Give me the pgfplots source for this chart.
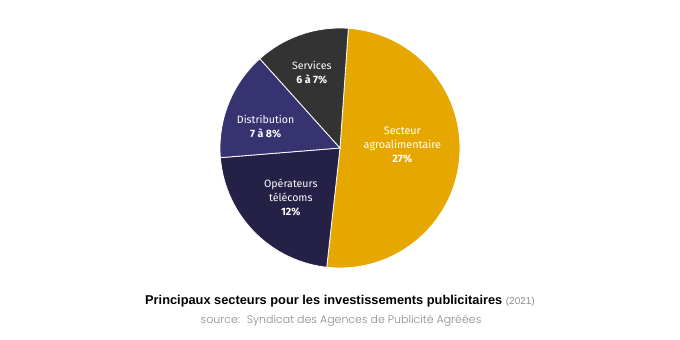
\documentclass[border=0pt]{standalone}
\usepackage{fontspec}
\setmainfont{Fira Sans}
\newfontfamily\titlefont{Liberation Sans}
\newfontfamily\srcfont{Poppins Light}
\usepackage{pgfplots}
\pgfplotsset{compat=1.18}
\definecolor{agro}{HTML}{E6A700}
\definecolor{telecom}{HTML}{242046}
\definecolor{distrib}{HTML}{363370}
\definecolor{serv}{HTML}{333333}
\definecolor{srcgray}{HTML}{8A8A8A}
\begin{document}
\begin{tikzpicture}
\path[use as bounding box] (0,0) rectangle (680pt,340pt);
% slice values (share of the pie)
\def\vA{27}   % Secteur agroalimentaire
\def\vB{11.7} % Operateurs telecoms
\def\vC{7.8}  % Distribution
\def\vD{6.8}  % Services
\pgfmathsetmacro\tot{\vA+\vB+\vC+\vD}
\pgfmathsetmacro\aA{86}
\pgfmathsetmacro\aB{\aA-\vA/\tot*360}
\pgfmathsetmacro\aC{\aB-\vB/\tot*360}
\pgfmathsetmacro\aD{\aC-\vC/\tot*360}
\pgfmathsetmacro\aE{\aD-\vD/\tot*360}
\begin{axis}[at={(340pt,192pt)}, anchor=center, scale only axis,
  width=240pt, height=240pt, xmin=-1, xmax=1, ymin=-1, ymax=1,
  hide axis, clip=false]
\addplot[fill=agro, draw=white, line width=0.8pt, domain=\aB:\aA, samples=120, variable=\t] ({cos(t)},{sin(t)}) -- (axis cs:0,0) -- cycle;
\addplot[fill=telecom, draw=white, line width=0.8pt, domain=\aC:\aB, samples=60, variable=\t] ({cos(t)},{sin(t)}) -- (axis cs:0,0) -- cycle;
\addplot[fill=distrib, draw=white, line width=0.8pt, domain=\aD:\aC, samples=50, variable=\t] ({cos(t)},{sin(t)}) -- (axis cs:0,0) -- cycle;
\addplot[fill=serv, draw=white, line width=0.8pt, domain=\aE:\aD, samples=50, variable=\t] ({cos(t)},{sin(t)}) -- (axis cs:0,0) -- cycle;
\node[align=center, text=white, font=\fontsize{10.8}{14}\selectfont] at (axis cs:0.52,0.025) {Secteur\\agroalimentaire\\\textbf{27\%}};
\node[align=center, text=white, font=\fontsize{10.6}{14}\selectfont] at (axis cs:-0.41,-0.41) {Opérateurs\\télécoms\\\textbf{12\%}};
\node[align=center, text=white, font=\fontsize{10.6}{14}\selectfont] at (axis cs:-0.62,0.18) {Distribution\\\textbf{7 à 8\%}};
\node[align=center, text=white, font=\fontsize{10.6}{14}\selectfont] at (axis cs:-0.235,0.63) {Services\\\textbf{6 à 7\%}};
\end{axis}
\node[font=\titlefont\bfseries\fontsize{12.8}{14}\selectfont, text=black] at (340pt,39pt) {Principaux secteurs pour les investissements publicitaires {\mdseries\color{srcgray}\fontsize{10}{11}\selectfont(2021)}};
\node[font=\srcfont\fontsize{11}{12}\selectfont, text=srcgray] at (341pt,19pt) {source:~ Syndicat des Agences de Publicité Agréées};
\end{tikzpicture}
\end{document}
